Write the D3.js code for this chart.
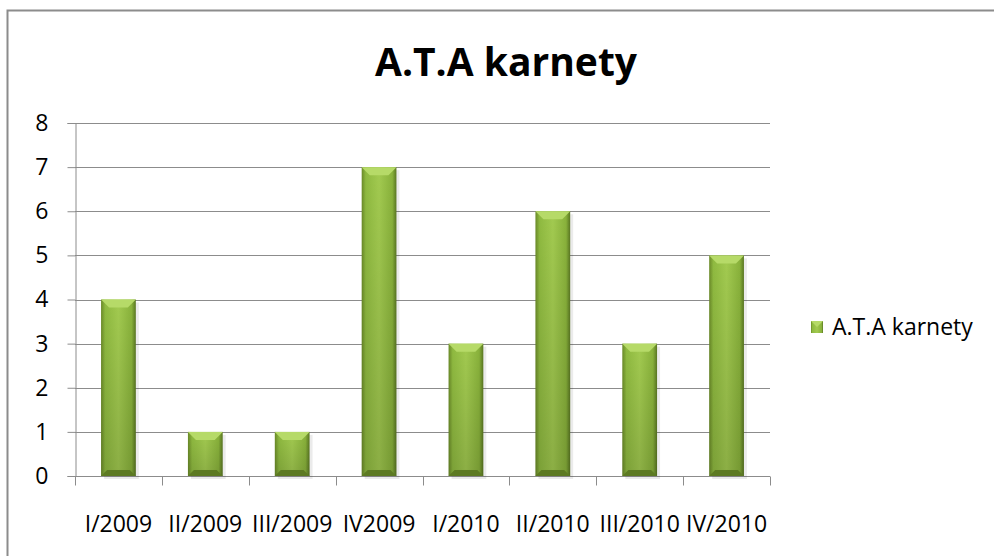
<!DOCTYPE html>
<html>
<head>
<meta charset="utf-8">
<script src="https://cdn.jsdelivr.net/npm/d3@7"></script>
<style>
  body { margin: 0; background: #fff; }
  text { font-family: "Open Sans", Lato, sans-serif; fill: #000; }
</style>
</head>
<body>
<svg id="chart" width="994" height="556"></svg>
<script>
const categories = ['I/2009', 'II/2009', 'III/2009', 'IV2009', 'I/2010', 'II/2010', 'III/2010', 'IV/2010'];
const values = [4, 1, 1, 7, 3, 6, 3, 5];
const yTicks = [0, 1, 2, 3, 4, 5, 6, 7, 8];
const seriesName = 'A.T.A karnety';
const title = 'A.T.A karnety';

const svg = d3.select('#chart');
const plot = { left: 75, right: 770, top: 123, bottom: 476 };
const labelSize = 23;

// frame round the whole chart
svg.append('rect')
  .attr('x', 7.5).attr('y', 10.5)
  .attr('width', 1000).attr('height', 600)
  .attr('fill', '#fff')
  .attr('stroke', '#8c8c8c')
  .attr('stroke-width', 2);

const defs = svg.append('defs');
const grad = defs.append('linearGradient').attr('id', 'barGrad')
  .attr('x1', '0%').attr('x2', '100%').attr('y1', '0%').attr('y2', '0%');
grad.append('stop').attr('offset', '0%').attr('stop-color', '#6a8a28');
grad.append('stop').attr('offset', '12%').attr('stop-color', '#8fba40');
grad.append('stop').attr('offset', '50%').attr('stop-color', '#a2ca50');
grad.append('stop').attr('offset', '88%').attr('stop-color', '#89b23b');
grad.append('stop').attr('offset', '100%').attr('stop-color', '#5a7722');

const vGrad = defs.append('linearGradient').attr('id', 'barShade')
  .attr('x1', '0%').attr('x2', '0%').attr('y1', '0%').attr('y2', '100%');
vGrad.append('stop').attr('offset', '0%').attr('stop-color', '#000').attr('stop-opacity', 0);
vGrad.append('stop').attr('offset', '100%').attr('stop-color', '#000').attr('stop-opacity', 0.14);

const x = d3.scaleBand().domain(categories).range([plot.left, plot.right]).paddingInner(0.6).paddingOuter(0.3);
const xTicks = d3.scaleBand().domain(categories).range([plot.left, plot.right]);
const y = d3.scaleLinear().domain([0, 8]).range([plot.bottom, plot.top]);

// gridlines
svg.append('g').selectAll('line')
  .data(yTicks.filter(d => d > 0))
  .enter().append('line')
  .attr('x1', plot.left).attr('x2', plot.right)
  .attr('y1', d => Math.round(y(d)) + 0.5).attr('y2', d => Math.round(y(d)) + 0.5)
  .attr('stroke', '#8c8c8c').attr('stroke-width', 1);

// y axis
const yAxis = svg.append('g')
  .attr('transform', `translate(${plot.left + 0.5},0)`)
  .call(d3.axisLeft(y).tickValues(yTicks).tickSize(8).tickPadding(19).tickFormat(d3.format('d')));
yAxis.select('.domain').attr('stroke', '#8c8c8c');
yAxis.selectAll('.tick line').attr('stroke', '#8c8c8c');
yAxis.selectAll('.tick text').attr('font-size', labelSize).attr('font-family', '"Open Sans", sans-serif');

// x axis
const xAxis = svg.append('g')
  .attr('transform', `translate(0,${plot.bottom + 0.5})`);
xAxis.append('line')
  .attr('x1', plot.left).attr('x2', plot.right)
  .attr('stroke', '#8c8c8c');
xAxis.selectAll('.xt')
  .data(categories.concat(['end']))
  .enter().append('line')
  .attr('x1', (d, i) => Math.round(i < categories.length ? xTicks(d) : plot.right) + 0.5)
  .attr('x2', (d, i) => Math.round(i < categories.length ? xTicks(d) : plot.right) + 0.5)
  .attr('y1', 0).attr('y2', 9)
  .attr('stroke', '#8c8c8c');
xAxis.selectAll('text')
  .data(categories)
  .enter().append('text')
  .attr('x', d => xTicks(d) + xTicks.bandwidth() / 2)
  .attr('y', 55)
  .attr('text-anchor', 'middle')
  .attr('font-size', labelSize)
  .text(d => d);

// bars
const bars = svg.append('g').selectAll('g')
  .data(values)
  .enter().append('g');

bars.append('rect')
  .attr('x', (d, i) => x(categories[i]) + 3)
  .attr('y', d => y(d) + 3)
  .attr('width', x.bandwidth())
  .attr('height', d => y(0) - y(d))
  .attr('fill', '#000').attr('opacity', 0.08);

bars.append('rect')
  .attr('x', (d, i) => x(categories[i]))
  .attr('y', d => y(d))
  .attr('width', x.bandwidth())
  .attr('height', d => y(0) - y(d))
  .attr('fill', 'url(#barGrad)');

bars.append('rect')
  .attr('x', (d, i) => x(categories[i]))
  .attr('y', d => y(d))
  .attr('width', x.bandwidth())
  .attr('height', d => y(0) - y(d))
  .attr('fill', 'url(#barShade)');

// bevel top
bars.append('path')
  .attr('d', (d, i) => {
    const x0 = x(categories[i]);
    const w = x.bandwidth();
    const t = y(d);
    return `M${x0},${t}L${x0 + w},${t}L${x0 + w - 8},${t + 8}L${x0 + 8},${t + 8}Z`;
  })
  .attr('fill', '#b6da68');

// bevel bottom
bars.append('path')
  .attr('d', (d, i) => {
    const x0 = x(categories[i]);
    const w = x.bandwidth();
    const b = y(0);
    return `M${x0},${b}L${x0 + w},${b}L${x0 + w - 6},${b - 6}L${x0 + 6},${b - 6}Z`;
  })
  .attr('fill', '#5d7a22');

// title
svg.append('text')
  .attr('x', 506).attr('y', 76)
  .attr('text-anchor', 'middle')
  .attr('font-size', 39)
  .attr('font-weight', 'bold')
  .text(title);

// legend
const legend = svg.append('g').attr('transform', 'translate(811,321)');
legend.append('rect').attr('width', 12).attr('height', 12).attr('fill', 'url(#barGrad)');
legend.append('path').attr('d', 'M0,0L12,0L6,6Z').attr('fill', '#b6da68');
legend.append('text')
  .attr('x', 21).attr('y', 14)
  .attr('font-size', labelSize)
  .text(seriesName);
</script>
</body>
</html>
